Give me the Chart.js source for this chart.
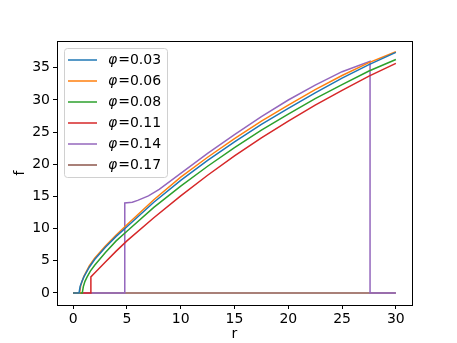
<!DOCTYPE html>
<html><head><meta charset="utf-8">
<script src="https://cdn.jsdelivr.net/npm/chart.js@4.4.0/dist/chart.umd.min.js"></script>
<style>html,body{margin:0;padding:0;background:#fff}#c{display:block}</style>
</head><body>
<canvas id="c" width="457" height="343"></canvas>
<script>
const labels = ["0.03","0.06","0.08","0.11","0.14","0.17"];
const colors = ["#1f77b4","#ff7f0e","#2ca02c","#d62728","#9467bd","#8c564b"];
const xTicks = [0,5,10,15,20,25,30];
const yTicks = [0,5,10,15,20,25,30,35];

const r1 = [0,0.55,0.65,0.8,1,1.5,2,3,4,5,7.5,10,12.5,15,17.5,20,22.5,25,27.5,30];
const f1 = [0,0,1.0,1.7,2.5,4.0,5.2,7.1,8.8,10.3,14.1,17.5,20.6,23.5,26.2,28.7,31.1,33.4,35.5,37.4];
const r2 = [0,0.6,0.7,0.85,1,1.5,2,3,4,5,7.5,10,12.5,15,17.5,20,22.5,25,27.5,30];
const f2 = [0,0,1.1,1.9,2.6,4.2,5.4,7.3,9.0,10.6,14.5,18.0,21.1,24.0,26.7,29.2,31.6,33.8,35.8,37.5];
const r3 = [0,0.85,0.95,1.1,1.3,1.6,2,3,4,5,7.5,10,12.5,15,17.5,20,22.5,25,27.5,30];
const f3 = [0,0,1.0,1.8,2.5,3.4,4.3,6.3,8.1,9.6,13.3,16.6,19.7,22.6,25.3,27.8,30.2,32.4,34.5,36.3];
const r4 = [0,1.65,1.65,2,3,4,5,7.5,10,12.5,15,17.5,20,22.5,25,27.5,30];
const f4 = [0,0,2.5,3.1,4.8,6.5,8.1,11.7,15.1,18.3,21.3,24.1,26.7,29.2,31.5,33.7,35.7];
const r5 = [0,4.8,4.8,5.5,6,7,8,10,12.5,15,17.5,20,22.5,25,27.6,27.6,30];
const f5 = [0,0,14.0,14.1,14.4,15.1,16.1,18.6,21.7,24.6,27.4,30.0,32.3,34.4,36.0,0,0];
const r6 = [0,30];
const f6 = [0,0];

const rs = [r1,r2,r3,r4,r5,r6];
const fs = [f1,f2,f3,f4,f5,f6];

const datasets = rs.map((r,i)=>({
  label: labels[i],
  data: r.map((x,j)=>({x:x,y:fs[i][j]})),
  borderColor: colors[i],
  backgroundColor: colors[i],
  borderWidth: 1.5,
  pointRadius: 0,
  tension: 0,
  fill: false
}));

const FONT = "'DejaVu Sans', sans-serif";

const framePlugin = {
  id:'frame',
  afterDraw(chart){
    const ctx = chart.ctx, a = chart.chartArea;
    ctx.save();
    ctx.strokeStyle = '#000'; ctx.lineWidth = 1;
    ctx.strokeRect(Math.round(a.left)+0.5, Math.round(a.top)+0.5, Math.round(a.right-a.left), Math.round(a.bottom-a.top));
    // legend
    const bx = 64.5, by = 48.5, bw = 103, bh = 129;
    ctx.fillStyle = 'rgba(255,255,255,0.8)';
    ctx.strokeStyle = '#d0d0d0';
    ctx.beginPath();
    if (ctx.roundRect) ctx.roundRect(bx,by,bw,bh,3); else ctx.rect(bx,by,bw,bh);
    ctx.fill(); ctx.stroke();
    ctx.textBaseline = 'middle';
    labels.forEach((lab,i)=>{
      const y = 60 + i*21;
      ctx.strokeStyle = colors[i]; ctx.lineWidth = 1.5;
      ctx.beginPath(); ctx.moveTo(68,y); ctx.lineTo(97,y); ctx.stroke();
      ctx.fillStyle = '#000';
      ctx.font = "italic 14px " + FONT;
      ctx.fillText('φ',108,y);
      const w = ctx.measureText('φ').width;
      ctx.font = "14px " + FONT;
      ctx.fillText('=' + lab, 108 + w + 1, y);
    });
    ctx.restore();
  }
};

new Chart(document.getElementById('c'), {
  type:'line',
  data:{datasets},
  options:{
    responsive:false,
    animation:false,
    layout:{padding:{left:0,right:45,top:41,bottom:0}},
    plugins:{legend:{display:false},tooltip:{enabled:false}},
    scales:{
      x:{
        type:'linear', min:-1.5, max:31.5,
        afterBuildTicks(s){ s.ticks = xTicks.map(v=>({value:v})); },
        afterFit(s){ s.height = 38; },
        grid:{drawOnChartArea:false, drawTicks:true, tickLength:4, color:'#000', tickWidth:1},
        border:{display:false},
        ticks:{color:'#000', font:{family:FONT,size:14}, padding:2, maxRotation:0, autoSkip:false},
        title:{display:true, text:'r', color:'#000', font:{family:FONT,size:14}, padding:{top:-1,bottom:0}}
      },
      y:{
        type:'linear', min:-1.87, max:39.17,
        afterBuildTicks(s){ s.ticks = yTicks.map(v=>({value:v})); },
        afterFit(s){ s.width = 57; },
        grid:{drawOnChartArea:false, drawTicks:true, tickLength:4, color:'#000', tickWidth:1},
        border:{display:false},
        ticks:{color:'#000', font:{family:FONT,size:14}, padding:3, autoSkip:false},
        title:{display:true, text:'f', color:'#000', font:{family:FONT,size:14}, padding:{top:12,bottom:4}}
      }
    }
  },
  plugins:[framePlugin]
});
</script>
</body></html>
